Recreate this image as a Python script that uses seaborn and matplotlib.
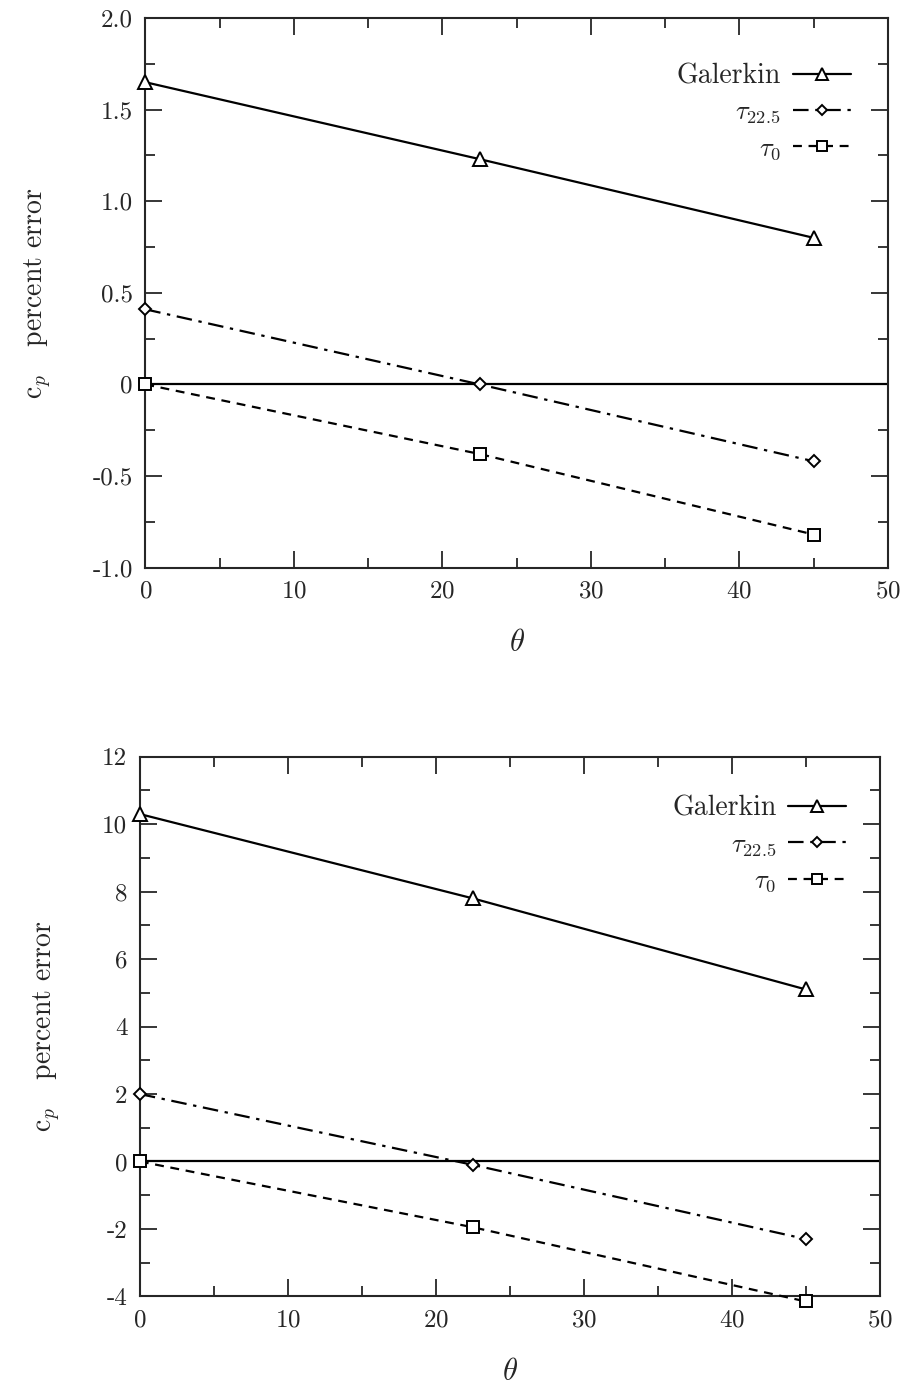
import matplotlib
matplotlib.use("Agg")
import matplotlib.pyplot as plt
from matplotlib.ticker import MultipleLocator
import seaborn as sns
import pandas as pd

theta = [0, 22.5, 45]

# top panel
top_galerkin = [1.65, 1.23, 0.80]
top_tau225 = [0.41, 0.0, -0.42]
top_tau0 = [0.0, -0.38, -0.82]

# bottom panel
bot_galerkin = [10.3, 7.8, 5.1]
bot_tau225 = [2.0, -0.1, -2.3]
bot_tau0 = [0.0, -1.95, -4.15]

labels = ["Galerkin", r"$\tau_{22.5}$", r"$\tau_0$"]

sns.set_style("ticks")
plt.rcParams.update({
    "font.family": "serif",
    "font.serif": ["cmr10", "DejaVu Serif"],
    "mathtext.fontset": "cm",
    "axes.unicode_minus": False,
    "axes.formatter.use_mathtext": True,
    "axes.linewidth": 1.5,
    "font.size": 17,
})

fig = plt.figure(figsize=(9.08, 13.91), dpi=100)
ax_top = fig.add_axes([0.160, 0.592, 0.818, 0.395])
ax_bot = fig.add_axes([0.154, 0.068, 0.815, 0.388])

styles = [
    dict(marker="^", linestyle="-", markersize=10),
    dict(marker="D", linestyle=(0, (7, 3, 1.5, 3)), markersize=6),
    dict(marker="s", linestyle=(0, (4, 3)), markersize=9),
]


def draw(ax, series, ylim, ymajor, yminor, yfmt, anchor):
    ax.axhline(0, color="black", lw=1.6, zorder=1)
    for vals, lab, st in zip(series, labels, styles):
        df = pd.DataFrame({"theta": theta, "err": vals})
        sns.lineplot(data=df, x="theta", y="err", ax=ax, color="black", lw=1.6,
                     markerfacecolor="white", markeredgecolor="black",
                     markeredgewidth=1.4, label=lab, clip_on=False, zorder=3, **st)
    ax.set_xlim(0, 50)
    ax.set_ylim(*ylim)
    ax.xaxis.set_major_locator(MultipleLocator(10))
    ax.xaxis.set_minor_locator(MultipleLocator(5))
    ax.yaxis.set_major_locator(MultipleLocator(ymajor))
    ax.yaxis.set_minor_locator(MultipleLocator(yminor))
    ax.yaxis.set_major_formatter(yfmt)
    ax.tick_params(which="both", direction="in", top=True, right=True, width=1.3)
    ax.tick_params(which="major", length=12, labelsize=18, pad=9)
    ax.tick_params(which="minor", length=7)
    ax.set_xlabel(r"$\theta$", fontsize=22, labelpad=20)
    ax.set_ylabel(r"c$_p$   percent error", fontsize=20, labelpad=28)
    leg = ax.legend(loc="upper right", frameon=False, markerfirst=False,
                    handlelength=2.2, handletextpad=0.45, labelspacing=0.42,
                    fontsize=19, borderaxespad=0.0, markerscale=0.85,
                    bbox_to_anchor=anchor)
    leg.get_texts()[0].set_fontsize(20)


def fmt_top(v, pos):
    return "0" if abs(v) < 1e-9 else f"{v:.1f}"


def fmt_bot(v, pos):
    return f"{v:.0f}"


draw(ax_top, [top_galerkin, top_tau225, top_tau0], (-1.0, 2.0), 0.5, 0.25, fmt_top,
     (0.964, 0.938))
draw(ax_bot, [bot_galerkin, bot_tau225, bot_tau0], (-4, 12), 2, 1, fmt_bot,
     (0.969, 0.948))

fig.savefig("out.png", dpi=100)
